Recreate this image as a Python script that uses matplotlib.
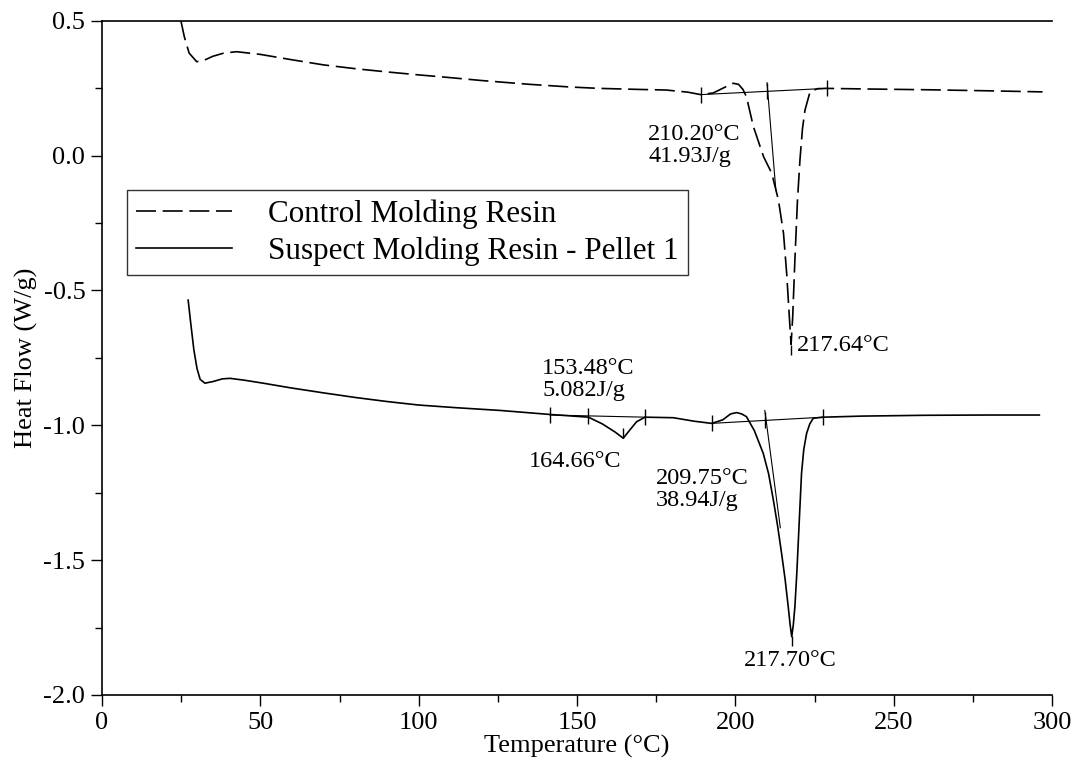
import matplotlib
matplotlib.use("Agg")
import matplotlib.pyplot as plt
from matplotlib.ticker import MultipleLocator, FormatStrFormatter

plt.rcParams['font.family'] = ['Liberation Serif', 'DejaVu Serif']
plt.rcParams['axes.unicode_minus'] = False

# control resin (dashed curve)
control_temp = [24.9, 26.0, 27.5, 29.9, 32.0, 35.0, 38.5, 42.5, 50, 60, 70, 80, 90, 100,
                107, 120, 135, 148, 157, 170, 178, 185, 189, 193, 197, 199.3, 201, 202.4,
                203.5, 205.7, 208.9, 211.5, 213.6, 215.2, 216.2, 217.0, 217.6,
                218.1, 218.8, 219.6, 220.4, 221.2, 222.0, 223.6, 226, 228.8, 240, 260, 280, 297]
control_flow = [0.50, 0.44, 0.38, 0.348, 0.352, 0.368, 0.380, 0.385, 0.375, 0.355, 0.336, 0.322,
                0.310, 0.299, 0.292, 0.278, 0.264, 0.254, 0.249, 0.245, 0.243, 0.235, 0.226,
                0.232, 0.255, 0.268, 0.264, 0.245, 0.218, 0.107, -0.004, -0.066, -0.165,
                -0.288, -0.436, -0.590, -0.70, -0.60, -0.387, -0.17, -0.016, 0.10, 0.169,
                0.237, 0.248, 0.249, 0.247, 0.244, 0.240, 0.236]

# suspect resin - pellet 1 (solid curve)
suspect_temp = [27.2, 28, 29, 30, 31, 32.5, 35, 38, 40.4, 45, 50.9, 59.4, 70, 80, 90, 100, 112,
                125.7, 141.5, 153.6, 158, 162, 164.6, 166.5, 168.8, 171.5, 180.4, 187, 192.5,
                196, 198.5, 200.4, 202, 203.5, 206, 208.8, 210.5, 212, 213.3, 214.6, 215.7,
                216.7, 217.3, 217.8, 218.3, 218.8, 219.4, 219.9, 220.4, 220.9, 221.6, 222.5,
                223.5, 224.6, 227.8, 240, 260, 280, 296]
suspect_flow = [-0.536, -0.62, -0.72, -0.79, -0.83, -0.844, -0.838, -0.828, -0.826, -0.833,
                -0.844, -0.861, -0.880, -0.897, -0.912, -0.925, -0.935, -0.945, -0.960, -0.970,
                -0.995, -1.025, -1.048, -1.02, -0.987, -0.970, -0.972, -0.985, -0.993, -0.98,
                -0.958, -0.953, -0.958, -0.968, -1.02, -1.104, -1.18, -1.277, -1.37, -1.475,
                -1.57, -1.673, -1.74, -1.784, -1.74, -1.673, -1.55, -1.425, -1.30, -1.178,
                -1.09, -1.03, -0.995, -0.974, -0.970, -0.966, -0.963, -0.962, -0.962]

# analysis constructs (baselines, onset tangents, limit marks)
ctrl_base_t = [189.3, 228.8]
ctrl_base_f = [0.226, 0.249]
ctrl_tan_t = [210.0, 212.8]
ctrl_tan_f = [0.27, -0.13]
ctrl_marks_t = [189.3, 210.0, 228.8]
ctrl_marks_f = [0.226, 0.240, 0.249]
ctrl_peak = (217.6, -0.72)

susp_base1_t = [141.5, 171.5]
susp_base1_f = [-0.962, -0.970]
susp_marks1_t = [141.5, 153.6, 171.5]
susp_marks1_f = [-0.962, -0.966, -0.970]
susp_small_peak = (164.6, -1.03)
susp_base2_t = [192.5, 227.8]
susp_base2_f = [-0.993, -0.970]
susp_tan_t = [209.3, 214.2]
susp_tan_f = [-0.945, -1.38]
susp_marks2_t = [192.5, 209.3, 227.8]
susp_marks2_f = [-0.993, -0.982, -0.970]
susp_peak = (217.8, -1.80)

labels = [
    (172.5, 0.118, "210.20°C\n41.93J/g"),
    (219.4, -0.665, "217.64°C"),
    (139.0, -0.75, "153.48°C\n5.082J/g"),
    (134.8, -1.095, "164.66°C"),
    (175.0, -1.158, "209.75°C\n38.94J/g"),
    (202.8, -1.835, "217.70°C"),
]

fig = plt.figure(figsize=(10.83, 7.66), dpi=100)
ax = fig.add_axes([0.0942, 0.0927, 0.8772, 0.8803])

ax.plot(control_temp, control_flow, color='k', lw=1.2, dashes=(12, 4),
        label='Control Molding Resin')
ax.plot(suspect_temp, suspect_flow, color='k', lw=1.2,
        label='Suspect Molding Resin - Pellet 1')

thin = dict(color='k', lw=0.8)
ax.plot(ctrl_base_t, ctrl_base_f, **thin)
ax.plot(ctrl_tan_t, ctrl_tan_f, **thin)
ax.plot(susp_base1_t, susp_base1_f, **thin)
ax.plot(susp_base2_t, susp_base2_f, **thin)
ax.plot(susp_tan_t, susp_tan_f, **thin)
mk = dict(ls='none', marker='|', ms=12, mew=1, color='k')
ax.plot(ctrl_marks_t, ctrl_marks_f, **mk)
ax.plot(susp_marks1_t, susp_marks1_f, **mk)
ax.plot(susp_marks2_t, susp_marks2_f, **mk)
ax.plot(*ctrl_peak, ls='none', marker='|', ms=7, mew=1, color='k')
ax.plot(*susp_small_peak, ls='none', marker='|', ms=7, mew=1, color='k')
ax.plot(*susp_peak, ls='none', marker='|', ms=7, mew=1, color='k')

for x, y, s in labels:
    ax.text(x, y, s, fontsize=17.5, va='top', ha='left', linespacing=1.05)

ax.set_xlim(0, 300)
ax.set_ylim(-2.0, 0.5)
ax.xaxis.set_major_locator(MultipleLocator(50))
ax.xaxis.set_minor_locator(MultipleLocator(25))
ax.yaxis.set_major_locator(MultipleLocator(0.5))
ax.yaxis.set_minor_locator(MultipleLocator(0.25))
ax.yaxis.set_major_formatter(FormatStrFormatter('%.1f'))
ax.tick_params(which='major', length=8, width=1, labelsize=19, pad=4)
ax.tick_params(which='minor', length=5, width=1)
ax.spines['right'].set_visible(False)
for s in ['left', 'bottom', 'top']:
    ax.spines[s].set_linewidth(1.2)

ax.set_xlabel('Temperature (°C)', fontsize=19, labelpad=1)
ax.set_ylabel('Heat Flow (W/g)', fontsize=19, labelpad=4)

leg = ax.legend(loc='upper left', bbox_to_anchor=(0.026, 0.749), borderaxespad=0,
                fontsize=22.4, frameon=True, fancybox=False, handlelength=3.1,
                handletextpad=1.15, borderpad=0.3, labelspacing=0.25)
leg.get_frame().set_edgecolor('k')
leg.get_frame().set_linewidth(1.0)

fig.savefig('out.png', dpi=100)
